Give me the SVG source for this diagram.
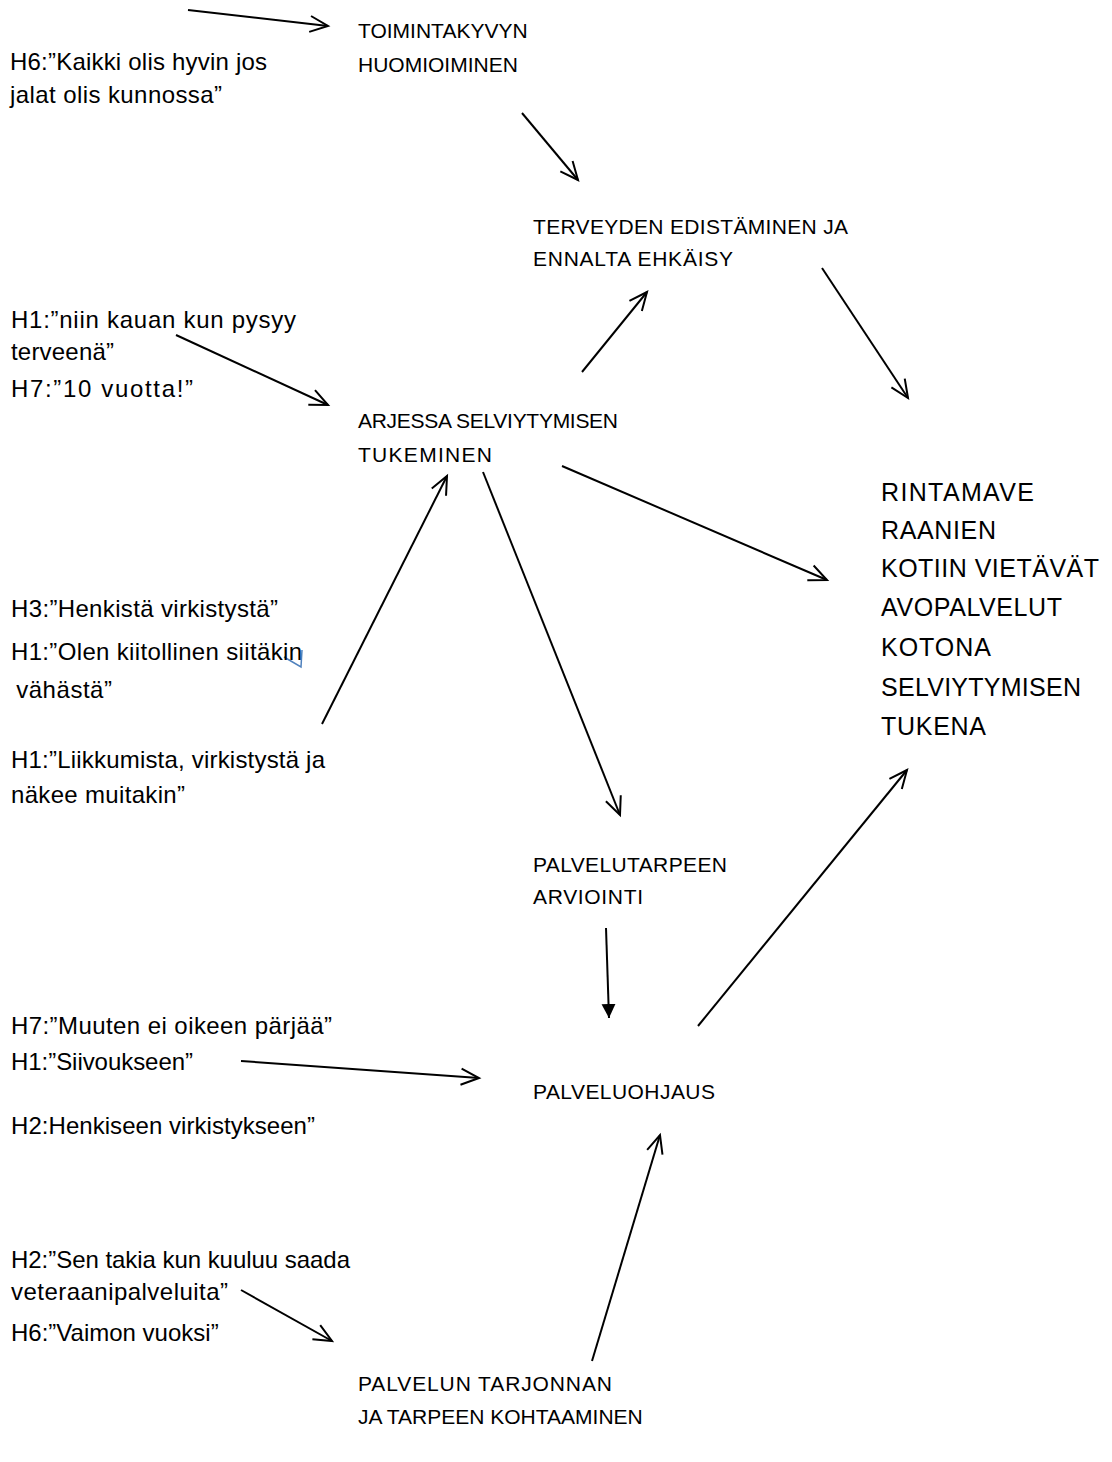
<svg xmlns="http://www.w3.org/2000/svg" width="1112" height="1462" viewBox="0 0 1112 1462">
<style>
text{font-family:"Liberation Sans",Arial,sans-serif;fill:#000}
.q{font-size:24px}
.n{font-size:21px}
.big{font-size:25px}
.c{stroke:#000;stroke-width:2;fill:none}
</style>
<defs>
<marker id="a" markerUnits="userSpaceOnUse" markerWidth="24" markerHeight="24" refX="20" refY="10" orient="auto" viewBox="0 0 24 20">
<path d="M2,2 L20,10 L2,18" fill="none" stroke="#000" stroke-width="2"/>
</marker>
<marker id="f" markerUnits="userSpaceOnUse" markerWidth="16" markerHeight="16" refX="14" refY="7" orient="auto" viewBox="0 0 16 14">
<path d="M0,0 L14,7 L0,14 Z" fill="#000"/>
</marker>
</defs>
<rect width="1112" height="1462" fill="#fff"/>
<g id="connectors">
<line class="c" x1="188" y1="10" x2="328" y2="26" marker-end="url(#a)"/>
<line class="c" x1="522" y1="113" x2="578" y2="180" marker-end="url(#a)"/>
<line class="c" x1="582" y1="372" x2="647" y2="292" marker-end="url(#a)"/>
<line class="c" x1="822" y1="268" x2="908" y2="398" marker-end="url(#a)"/>
<line class="c" x1="176" y1="335" x2="328" y2="405" marker-end="url(#a)"/>
<line class="c" x1="562" y1="466" x2="827" y2="580" marker-end="url(#a)"/>
<line class="c" x1="322" y1="724" x2="447" y2="476" marker-end="url(#a)"/>
<line class="c" x1="483" y1="472" x2="620" y2="815" marker-end="url(#a)"/>
<line class="c" x1="606" y1="928" x2="609" y2="1018" marker-end="url(#f)"/>
<line class="c" x1="241" y1="1061" x2="479" y2="1078" marker-end="url(#a)"/>
<line class="c" x1="698" y1="1026" x2="907" y2="770" marker-end="url(#a)"/>
<line class="c" x1="592" y1="1361" x2="660" y2="1135" marker-end="url(#a)"/>
<line class="c" x1="241" y1="1290" x2="332" y2="1341" marker-end="url(#a)"/>
<polyline points="284,657 301,667 302,650" fill="none" stroke="#4f81bd" stroke-width="1.5"/>
</g>
<g id="n-toimintakyky" class="n"><text x="358" y="38">TOIMINTAKYVYN</text><text x="358" y="72">HUOMIOIMINEN</text></g>
<g id="q-h6a" class="q"><text x="10" y="70" textLength="257">H6:”Kaikki olis hyvin jos</text><text x="10" y="103" textLength="212">jalat olis kunnossa”</text></g>
<g id="n-terveys" class="n"><text x="533" y="234" textLength="315">TERVEYDEN EDISTÄMINEN JA</text><text x="533" y="266" textLength="200">ENNALTA EHKÄISY</text></g>
<g id="q-h1a" class="q"><text x="11" y="328" textLength="285">H1:”niin kauan kun pysyy</text><text x="11" y="360" textLength="103">terveenä”</text></g>
<g id="q-h7a" class="q"><text x="11" y="397" textLength="182">H7:”10 vuotta!”</text></g>
<g id="n-arki" class="n"><text x="358" y="428" textLength="260">ARJESSA SELVIYTYMISEN</text><text x="358" y="462" textLength="134">TUKEMINEN</text></g>
<g id="n-main" class="big">
<text x="881" y="501" textLength="153">RINTAMAVE</text>
<text x="881" y="539" textLength="115">RAANIEN</text>
<text x="881" y="577" textLength="218">KOTIIN VIETÄVÄT</text>
<text x="881" y="616" textLength="181">AVOPALVELUT</text>
<text x="881" y="656" textLength="110">KOTONA</text>
<text x="881" y="696" textLength="200">SELVIYTYMISEN</text>
<text x="881" y="735" textLength="105">TUKENA</text>
</g>
<g id="q-h3" class="q"><text x="11" y="617" textLength="267">H3:”Henkistä virkistystä”</text></g>
<g id="q-h1b" class="q"><text x="11" y="660" textLength="291">H1:”Olen kiitollinen siitäkin</text><text x="9" y="698" xml:space="preserve" textLength="103"> vähästä”</text></g>
<g id="q-h1c" class="q"><text x="11" y="768" textLength="314">H1:”Liikkumista, virkistystä ja</text><text x="11" y="803" textLength="174">näkee muitakin”</text></g>
<g id="n-arviointi" class="n"><text x="533" y="872" textLength="194">PALVELUTARPEEN</text><text x="533" y="904" textLength="110">ARVIOINTI</text></g>
<g id="q-h7b" class="q"><text x="11" y="1034" textLength="321">H7:”Muuten ei oikeen pärjää”</text></g>
<g id="q-h1d" class="q"><text x="11" y="1070" textLength="182">H1:”Siivoukseen”</text></g>
<g id="n-ohjaus" class="n"><text x="533" y="1099" textLength="182">PALVELUOHJAUS</text></g>
<g id="q-h2a" class="q"><text x="11" y="1134" textLength="304">H2:Henkiseen virkistykseen”</text></g>
<g id="q-h2b" class="q"><text x="11" y="1268" textLength="339">H2:”Sen takia kun kuuluu saada</text><text x="11" y="1300" textLength="217">veteraanipalveluita”</text></g>
<g id="q-h6b" class="q"><text x="11" y="1341">H6:”Vaimon vuoksi”</text></g>
<g id="n-kohtaaminen" class="n"><text x="358" y="1391" textLength="254">PALVELUN TARJONNAN</text><text x="358" y="1424">JA TARPEEN KOHTAAMINEN</text></g>
</svg>
